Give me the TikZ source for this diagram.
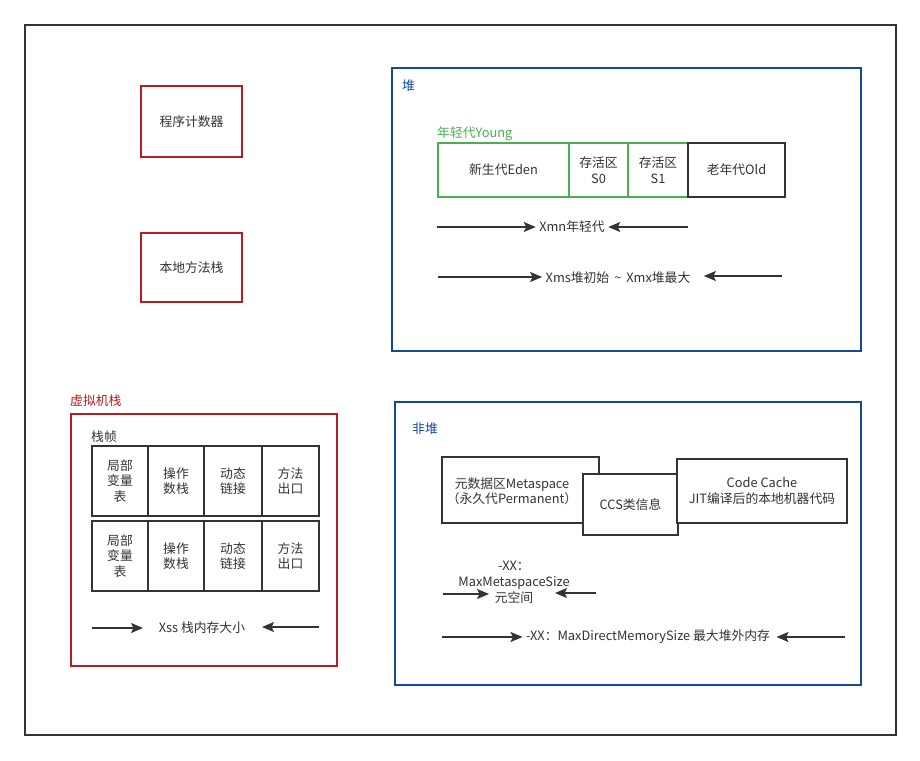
\documentclass[tikz,border=0pt]{standalone}
\usepackage{fontspec}
\setmainfont{Noto Sans CJK SC}
\usetikzlibrary{arrows.meta}
\definecolor{frameRed}{RGB}{184,29,33}
\definecolor{heapBlue}{RGB}{16,73,158}
\definecolor{youngGreen}{RGB}{76,175,80}
\definecolor{ink}{RGB}{51,51,51}
\begin{document}
\begin{tikzpicture}[x=1pt,y=-1pt,
  font=\fontsize{12.8}{15.5}\selectfont,
  every node/.style={text=ink},
  cell/.style={draw=ink, line width=2pt, fill=white, inner sep=0pt, outer sep=0pt, align=center},
  redbox/.style={cell, draw=frameRed},
  bluebox/.style={cell, draw=heapBlue},
  greenbox/.style={cell, draw=youngGreen},
  tag/.style={anchor=west, inner sep=0pt},
  sizearrow/.style={draw=ink, line width=1.5pt, -{Stealth[length=12pt,width=10pt,inset=2.5pt]}},
]
\useasboundingbox (0,0) rectangle (920,760);
\fill[white] (0,0) rectangle (920,760);

% outer frame
\node[draw=ink, line width=1.5pt, minimum width=871, minimum height=710, inner sep=0pt] (frame) at (460.5,380) {};

% program counter and native method stack
\node[redbox, minimum width=101, minimum height=71] (pc) at (191.5,121.5) {程序计数器};
\node[redbox, minimum width=101, minimum height=69] (native) at (191.5,267.5) {本地方法栈};

% heap
\node[bluebox, minimum width=469, minimum height=283] (heap) at (626.5,209.5) {};
\node[tag, text=heapBlue] (heaplabel) at (402,86) {堆};
\node[tag, text=youngGreen] (younglabel) at (437,134) {年轻代Young};
\node[greenbox, minimum width=131, minimum height=54] (eden) at (503.5,170) {新生代Eden};
\node[greenbox, minimum width=59, minimum height=54] (s0) at (598.5,170) {存活区\\S0};
\node[greenbox, minimum width=60, minimum height=54] (s1) at (658,170) {存活区\\S1};
\node[cell, minimum width=97, minimum height=54] (old) at (736.5,170) {老年代Old};

\node (xmn) at (572,227) {Xmn年轻代};
\coordinate (xmnL) at (437,227);
\coordinate (xmnR) at (688,227);
\draw[sizearrow] (xmnL) -- (xmn.west);
\draw[sizearrow] (xmnR) -- (xmn.east);

\node (xms) at (618,278) {Xms堆初始 \,\textasciitilde\, Xmx堆最大};
\coordinate (xmsL) at (438,277);
\coordinate (xmsR) at (782,276);
\draw[sizearrow] (xmsL) -- (xms.west |- xmsL);
\draw[sizearrow] (xmsR) -- ([xshift=10pt]xms.east |- xmsR);

% non-heap
\node[bluebox, minimum width=466, minimum height=283] (nonheap) at (628,543.5) {};
\node[tag, text=heapBlue] (nonheaplabel) at (412,429) {非堆};
\node[cell, minimum width=157, minimum height=66] (meta) at (520.5,490) {};
\node[align=center, inner sep=0pt] (metatext) at (512,491) {元数据区Metaspace\\（永久代Permanent）};
\node[cell, minimum width=95, minimum height=61] (ccs) at (630.5,504.5) {CCS类信息};
\node[cell, minimum width=170, minimum height=64] (codecache) at (762,491) {Code Cache\\JIT编译后的本地机器代码};

\node[align=center, font=\fontsize{12.8}{16}\selectfont] (metasize) at (514,582) {-XX：\\MaxMetaspaceSize\\元空间};
\coordinate (msL) at (443,594);
\coordinate (msR) at (596,593);
\draw[sizearrow] (msL) -- (489,594);
\draw[sizearrow] (msR) -- (555,593);

\node (direct) at (648,637) {-XX：MaxDirectMemorySize 最大堆外内存};
\coordinate (dmL) at (442,637);
\coordinate (dmR) at (845,637);
\draw[sizearrow] (dmL) -- (direct.west);
\draw[sizearrow] (dmR) -- ([xshift=3pt]direct.east);

% JVM stack
\node[tag, text=frameRed] (stacklabel) at (70,401) {虚拟机栈};
\node[redbox, minimum width=266, minimum height=252] (stack) at (204,540) {};
\node[tag] (framelabel) at (91,437) {栈帧};
\foreach \r/\y in {1/481,2/556} {
  \node[cell, minimum width=56, minimum height=70] (loc\r) at (120,\y) {局部\\变量\\表};
  \node[cell, minimum width=56, minimum height=70] (ops\r) at (176,\y) {操作\\数栈};
  \node[cell, minimum width=58, minimum height=70] (dyn\r) at (233,\y) {动态\\链接};
  \node[cell, minimum width=57, minimum height=70] (ret\r) at (290.5,\y) {方法\\出口};
}
\node (xss) at (202,628) {Xss 栈内存大小};
\coordinate (xssL) at (92,628);
\coordinate (xssR) at (319,627);
\draw[sizearrow] (xssL) -- (143,628);
\draw[sizearrow] (xssR) -- (262,627);
\end{tikzpicture}
\end{document}
